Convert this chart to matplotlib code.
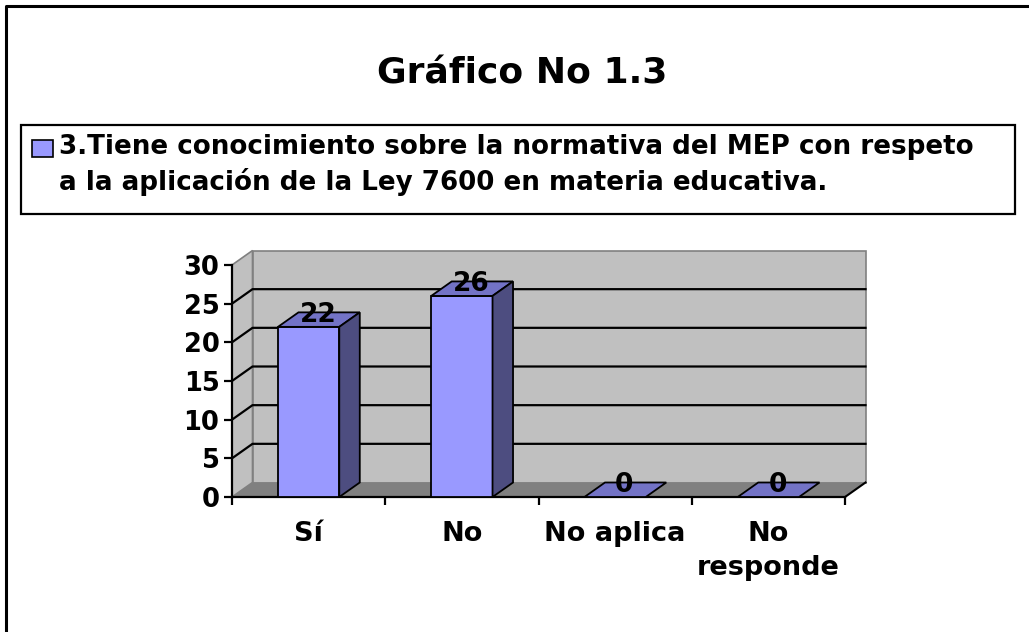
import matplotlib
matplotlib.use("Agg")
import matplotlib.pyplot as plt
from matplotlib.patches import Rectangle, Polygon

plt.rcParams['font.family'] = ['DejaVu Sans']
plt.rcParams['font.weight'] = 'bold'

# data
categories = ["Sí", "No", "No aplica", "No\nresponde"]
values = [22, 26, 0, 0]
series_lines = ["3.Tiene conocimiento sobre la normativa del MEP con respeto",
                "a la aplicación de la Ley 7600 en materia educativa."]
title = "Gráfico No 1.3"
yticks = [0, 5, 10, 15, 20, 25, 30]

front = "#9999FF"
top_c = "#7373C6"
side_c = "#4D4D80"
wall = "#C0C0C0"
floor_c = "#808080"

W, H = 1029, 632
fig = plt.figure(figsize=(W / 100, H / 100), dpi=100)

def fx(px):
    return px / W

def fy(py):
    return 1 - py / H

# outer frame (only top and left edges fall inside the picture)
fig.add_artist(plt.Line2D([fx(6), fx(6), fx(W + 5)], [fy(H + 5), fy(6), fy(6)],
                          transform=fig.transFigure, color="black", lw=2.2))

fig.text(fx(522), fy(84), title, ha="center", va="baseline", fontsize=26)

# legend box
fig.patches.append(Rectangle((fx(21), fy(214)), (1015 - 21) / W, (214 - 125) / H,
                             transform=fig.transFigure, fill=False,
                             ec="black", lw=1.6))
fig.patches.append(Rectangle((fx(32), fy(157)), 21 / W, 17 / H,
                             transform=fig.transFigure, fc=front,
                             ec="black", lw=1.2))
for i, line in enumerate(series_lines):
    fig.text(fx(59), fy(154 + 36 * i), line, ha="left", va="baseline", fontsize=18.8)

# plot area
x0, x1 = 232, 845
yb, yt = 497, 265
ax = fig.add_axes([fx(x0), fy(yb), (x1 - x0) / W, (yb - yt) / H])
n = len(categories)
ax.set_xlim(0, n)
ax.set_ylim(0, 30)
ax.set_facecolor("none")

dx = 20.5 / ((x1 - x0) / n)
dy = 14.5 / ((yb - yt) / 30)

# walls and floor
ax.add_patch(Polygon([(0, 0), (dx, dy), (dx, 30 + dy), (0, 30)],
                     closed=True, fc=wall, ec=floor_c, lw=1.2, zorder=0.5, clip_on=False))
ax.add_patch(Rectangle((dx, dy), n, 30, fc=wall, ec=floor_c, lw=1.2,
                       zorder=0.5, clip_on=False))
ax.add_patch(Polygon([(0, 0), (n, 0), (n + dx, dy), (dx, dy)],
                     closed=True, fc=floor_c, ec="none", zorder=0.6, clip_on=False))
ax.plot([n, n + dx], [0, dy], color="black", lw=1.5, zorder=0.7, clip_on=False)

for v in yticks[1:-1]:
    ax.plot([0, dx, n + dx], [v, v + dy, v + dy], color="black", lw=1.6,
            zorder=0.8, clip_on=False)

# bars
bw = 0.4
xs = [i + 0.5 for i in range(n)]
ax.bar(xs, values, width=bw, color=front, edgecolor="black", lw=1.3,
       zorder=2, clip_on=False)
for xc, v in zip(xs, values):
    l, r = xc - bw / 2, xc + bw / 2
    ax.add_patch(Polygon([(l, v), (r, v), (r + dx, v + dy), (l + dx, v + dy)],
                         closed=True, fc=top_c, ec="black", lw=1.3, zorder=2.1,
                         clip_on=False))
    if v > 0:
        ax.add_patch(Polygon([(r, 0), (r + dx, dy), (r + dx, v + dy), (r, v)],
                             closed=True, fc=side_c, ec="black", lw=1.3, zorder=2.1,
                             clip_on=False))
    ax.text(xc + 0.06, v + 0.6, str(v), ha="center", va="baseline",
            fontsize=19, zorder=3, clip_on=False)

# axes
for s in ["top", "right"]:
    ax.spines[s].set_visible(False)
ax.spines["left"].set_linewidth(1.6)
ax.spines["bottom"].set_linewidth(1.6)
ax.spines["left"].set_zorder(1)
ax.spines["bottom"].set_zorder(1)
ax.set_yticks(yticks)
ax.set_yticklabels([str(t) for t in yticks])
ax.tick_params(axis="y", length=6, width=1.6, labelsize=18.5, pad=3)
ax.set_xticks(xs)
ax.set_xticklabels(categories, linespacing=1.4)
ax.set_xticks(range(n + 1), minor=True)
ax.tick_params(axis="x", which="major", length=0, labelsize=19.5, pad=17)
ax.tick_params(axis="x", which="minor", length=6, width=1.6)

fig.savefig("out.png", dpi=100)
